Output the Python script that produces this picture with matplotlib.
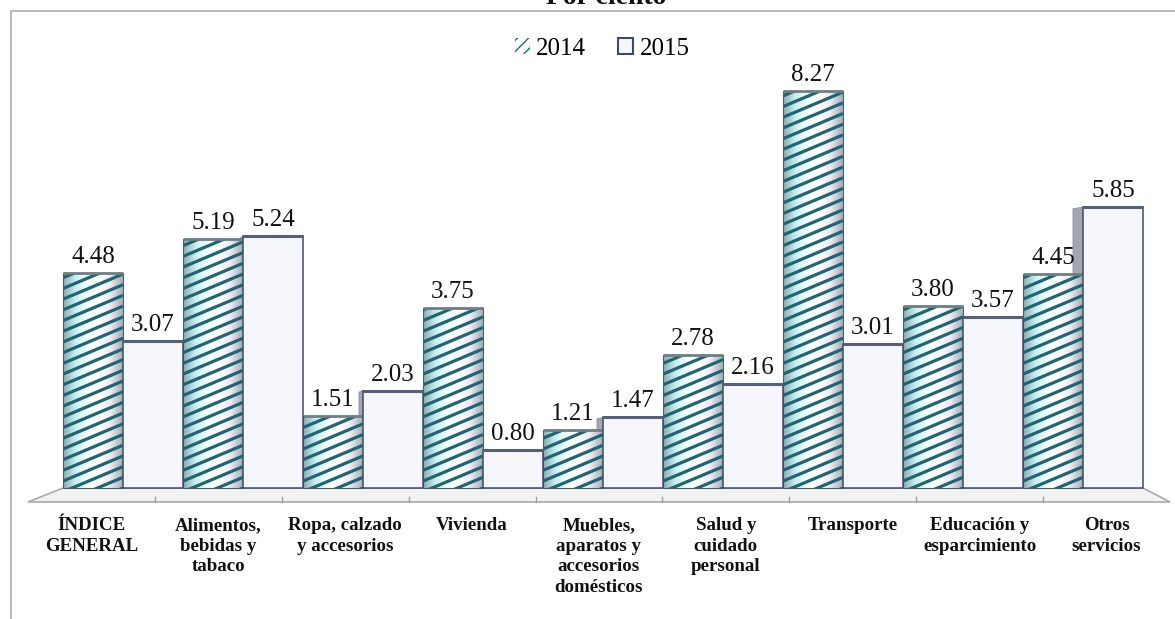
import numpy as np
import matplotlib
matplotlib.use("Agg")
import matplotlib.pyplot as plt
from matplotlib.collections import LineCollection
from matplotlib.colors import LinearSegmentedColormap
from matplotlib.lines import Line2D
from matplotlib.patches import Patch, Polygon, Rectangle

# ---- data -------------------------------------------------------------
categories = [
    "ÍNDICE\nGENERAL",
    "Alimentos,\nbebidas y\ntabaco",
    "Ropa, calzado\ny accesorios",
    "Vivienda",
    "Muebles,\naparatos y\naccesorios\ndomésticos",
    "Salud y\ncuidado\npersonal",
    "Transporte",
    "Educación y\nesparcimiento",
    "Otros\nservicios",
]
values_2014 = [4.48, 5.19, 1.51, 3.75, 1.21, 2.78, 8.27, 3.80, 4.45]
values_2015 = [3.07, 5.24, 2.03, 0.80, 1.47, 2.16, 3.01, 3.57, 5.85]
series_labels = ["2014", "2015"]
title = "Por ciento"

# ---- figure geometry (pixels) ------------------------------------------
W, H, DPI = 1175, 619, 100
PX_X = 120.0          # pixels per category on the bar plane
PX_Y = 48.0           # pixels per percentage point
X0_PX, BASE_PX = 63.0, 488.0
FRONT_PX, FRONT_L, FRONT_R = 502.0, 28.0, 1170.0

plt.rcParams["font.family"] = ["Liberation Serif", "DejaVu Serif"]

fig = plt.figure(figsize=(W / DPI, H / DPI), dpi=DPI)
ax = fig.add_axes([0, 0, 1, 1])
ax.set_axis_off()
xlim = ((0 - X0_PX) / PX_X, (W - X0_PX) / PX_X)
ylim = (-(H - BASE_PX) / PX_Y, BASE_PX / PX_Y)
ax.set_xlim(*xlim)
ax.set_ylim(*ylim)


def px_to_data_x(px):
    return (px - X0_PX) / PX_X


def px_to_data_y(py):
    return (BASE_PX - py) / PX_Y


# ---- frame lines --------------------------------------------------------
frame_col = "#b4b4b4"
fig.add_artist(Line2D([11 / W, 1], [1 - 11 / H, 1 - 11 / H], color=frame_col,
                      lw=1.3, transform=fig.transFigure))
fig.add_artist(Line2D([11 / W, 11 / W], [0, 1 - 11 / H], color=frame_col,
                      lw=1.3, transform=fig.transFigure))

# ---- floor ------------------------------------------------------------
n = len(categories)
floor_y = px_to_data_y(FRONT_PX)
floor = Polygon([(0, 0), (n, 0), (px_to_data_x(FRONT_R), floor_y),
                 (px_to_data_x(FRONT_L), floor_y)], closed=True,
                facecolor="#f2f2f2", edgecolor="#a9a9a9", lw=1.2, zorder=0)
ax.add_patch(floor)
step_front = (FRONT_R - FRONT_L) / n
tick_h = 5 / PX_Y
for k in range(1, n):
    xt = px_to_data_x(FRONT_L + step_front * k)
    ax.plot([xt, xt], [floor_y, floor_y + tick_h], color="#a0a0a0", lw=1.0,
            zorder=0.5)

# ---- bars ---------------------------------------------------------------
x = np.arange(n)
bw = 0.5

# side faces of the 2015 bars; perspective shows more of the side further right
for xi, v in zip(x, values_2015):
    depth = (2 + 8 * xi / (n - 1)) / PX_X
    side = Polygon([(xi + bw - depth, 0), (xi + bw, 0), (xi + bw, v),
                    (xi + bw - depth, v - 1.5 / PX_Y)], closed=True,
                   facecolor="#a3a7b2", edgecolor="#8a8f9c", lw=0.6, zorder=1)
    ax.add_patch(side)

bars14 = ax.bar(x, values_2014, width=bw, align="edge", facecolor="none",
                edgecolor="#4d5d6a", lw=0.8, zorder=4, label=series_labels[0])

cyl = LinearSegmentedColormap.from_list(
    "cyl", ["#86aeb3", "#c9eef1", "#f6ffff", "#ffffff", "#ece9f2", "#a3afb6"])
grad = np.linspace(0, 1, 64)[None, :]

stripe_slope = 0.42 * PX_X / PX_Y       # data units
stripe_gap = 10.7 / PX_Y
for rect in bars14:
    x0, w, h = rect.get_x(), rect.get_width(), rect.get_height()
    im = ax.imshow(grad, extent=(x0, x0 + w, 0, h), aspect="auto", cmap=cyl,
                   zorder=2, interpolation="bicubic")
    im.set_clip_path(Rectangle((x0, 0), w, h, transform=ax.transData))
    segs = []
    c = -stripe_slope * w - stripe_gap
    while c < h + stripe_gap:
        segs.append([(x0, c), (x0 + w, c + stripe_slope * w)])
        c += stripe_gap
    lc = LineCollection(segs, colors="#1f6672", linewidths=2.3, zorder=3)
    ax.add_collection(lc, autolim=False)
    lc.set_clip_path(Rectangle((x0, 0), w, h, transform=ax.transData))
    ax.plot([x0, x0 + w], [h, h], color="#6f7f84", lw=2.0, zorder=4.5,
            solid_capstyle="butt")

bars15 = ax.bar(x + bw, values_2015, width=bw, align="edge",
                facecolor="#f4f6fa", edgecolor="#3f4b66", lw=1.1, zorder=5,
                label=series_labels[1])
for rect in bars15:
    x0, w, h = rect.get_x(), rect.get_width(), rect.get_height()
    ax.plot([x0, x0 + w], [h, h], color="#56607a", lw=2.2, zorder=5.5,
            solid_capstyle="butt")

# ---- value labels -------------------------------------------------------
lab_off = 10 / PX_Y
for bars, vals in ((bars14, values_2014), (bars15, values_2015)):
    for rect, v in zip(bars, vals):
        ax.text(rect.get_x() + rect.get_width() / 2, v + lab_off, f"{v:.2f}",
                ha="center", va="baseline", fontsize=18, color="#111111",
                zorder=7)

# ---- category labels ----------------------------------------------------
lab_top = px_to_data_y(517)
for i, cat in enumerate(categories):
    xc = px_to_data_x(FRONT_L + step_front * (i + 0.5))
    ax.text(xc, lab_top, cat, ha="center", va="top", fontsize=13.6,
            fontweight="bold", linespacing=1.28, color="#111111")

ax.set_xlim(*xlim)
ax.set_ylim(*ylim)

# ---- legend and title ---------------------------------------------------
handles = [
    Patch(facecolor="white", edgecolor="#1f6b7a", hatch="///", lw=0,
          label=series_labels[0]),
    Patch(facecolor="#f4f6fa", edgecolor="#3f4b66", lw=1.5,
          label=series_labels[1]),
]
fig.legend(handles=handles, loc="center", bbox_to_anchor=(602 / W, 1 - 49 / H),
           ncol=2, frameon=False, fontsize=18, handlelength=0.6,
           handleheight=0.6, handletextpad=0.25, columnspacing=1.3)

fig.text(606 / W, 1 - 4 / H, title, ha="center", va="baseline", fontsize=20,
         fontweight="bold", color="#111111")

fig.savefig("out.png", dpi=DPI)
